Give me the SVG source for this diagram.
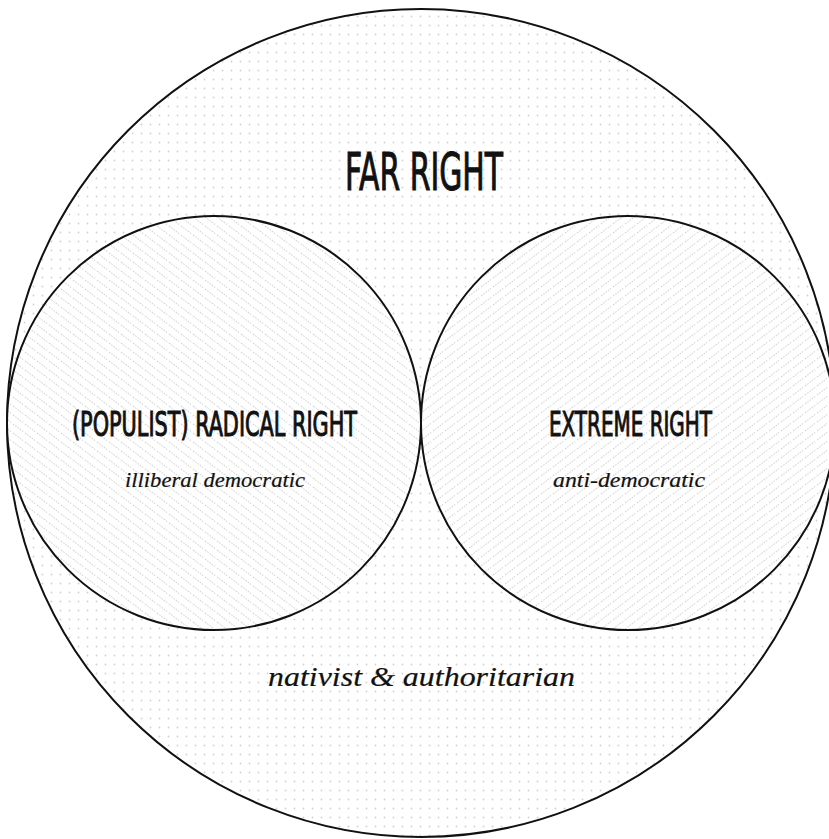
<svg xmlns="http://www.w3.org/2000/svg" width="829" height="839" viewBox="0 0 829 839">
<defs>
<pattern id="dots" patternUnits="userSpaceOnUse" width="9" height="9" x="2" y="3">
<rect width="9" height="9" fill="#fff"/>
<circle cx="4.5" cy="4.5" r="0.9" fill="#d2d2d2"/>
</pattern>
<pattern id="hatchL" patternUnits="userSpaceOnUse" width="12" height="9">
<rect width="12" height="9" fill="#fff"/>
<path d="M1,1 L11,8.5" stroke="#d6d6d6" stroke-width="1.1" stroke-dasharray="1.6 1.2" fill="none"/>
</pattern>
<pattern id="hatchR" patternUnits="userSpaceOnUse" width="12" height="9">
<rect width="12" height="9" fill="#fff"/>
<path d="M1,8 L11,0.5" stroke="#d6d6d6" stroke-width="1.1" stroke-dasharray="1.6 1.2" fill="none"/>
</pattern>
<style>
.ring{stroke:#111;stroke-width:2;}
.head{font-family:"DejaVu Sans Condensed","Liberation Sans Narrow","Liberation Sans",sans-serif;font-stretch:condensed;font-weight:normal;fill:#111;text-anchor:middle;stroke:#111;stroke-width:1;}
.sub{font-family:"Liberation Serif",serif;font-style:italic;fill:#111;text-anchor:middle;stroke:#111;stroke-width:0.2;}
</style>
</defs>
<rect width="829" height="839" fill="#fff"/>
<g id="far-right">
<circle class="ring" cx="421" cy="423" r="414" fill="url(#dots)"/>
<text class="head" x="424" y="190" font-size="51" textLength="158" lengthAdjust="spacingAndGlyphs">FAR RIGHT</text>
<text class="sub" x="421.5" y="686" font-size="27" textLength="307" lengthAdjust="spacingAndGlyphs">nativist &amp; authoritarian</text>
</g>
<g id="radical-right">
<circle class="ring" cx="214" cy="423" r="207" fill="url(#hatchL)"/>
<text class="head" x="214.5" y="436" font-size="33" textLength="285" lengthAdjust="spacingAndGlyphs">(POPULIST) RADICAL RIGHT</text>
<text class="sub" x="215" y="487" font-size="22" textLength="180" lengthAdjust="spacingAndGlyphs">illiberal democratic</text>
</g>
<g id="extreme-right">
<circle class="ring" cx="628" cy="423" r="207" fill="url(#hatchR)"/>
<text class="head" x="630.5" y="436" font-size="33" textLength="163" lengthAdjust="spacingAndGlyphs">EXTREME RIGHT</text>
<text class="sub" x="629" y="487" font-size="22" textLength="152" lengthAdjust="spacingAndGlyphs">anti-democratic</text>
</g>
<g id="connectors"/>
</svg>
